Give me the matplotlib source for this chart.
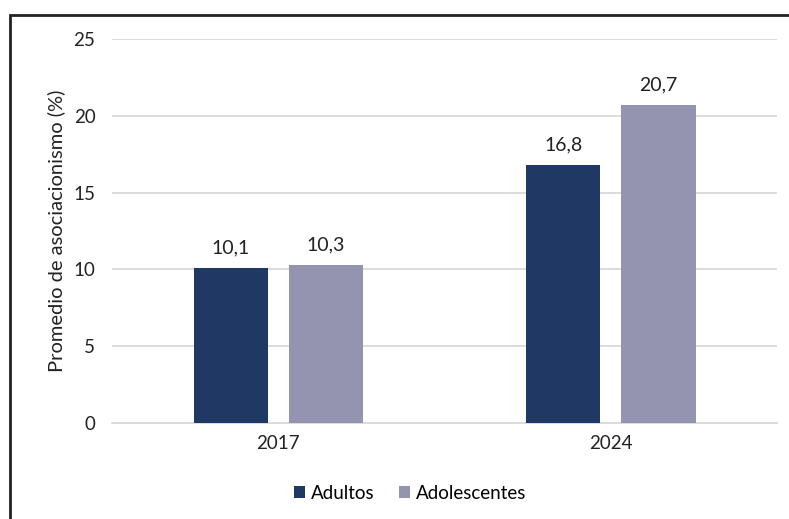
import numpy as np
import matplotlib.pyplot as plt
from matplotlib.patches import Rectangle

plt.rcParams['font.family'] = ['Lato', 'DejaVu Sans']

years = ["2017", "2024"]
adultos = [10.1, 16.8]
adolescentes = [10.3, 20.7]
labels_adultos = ["10,1", "16,8"]
labels_adolescentes = ["10,3", "20,7"]

c_adultos = "#203864"
c_adol = "#9494B0"

fig = plt.figure(figsize=(7.89, 5.19), dpi=100)
ax = fig.add_axes([0.142, 0.185, 0.843, 0.74])

x = np.arange(len(years))
w = 0.223
off = 0.143
b1 = ax.bar(x - off, adultos, w, color=c_adultos, label="Adultos", zorder=3)
b2 = ax.bar(x + off, adolescentes, w, color=c_adol, label="Adolescentes", zorder=3)

# etiquetas de valor con coma decimal
for bars, labs in [(b1, labels_adultos), (b2, labels_adolescentes)]:
    for b, t in zip(bars, labs):
        ax.annotate(t, (b.get_x() + b.get_width() / 2, b.get_height()),
                    xytext=(0, 8), textcoords="offset points",
                    ha="center", va="bottom", fontsize=14, color="#222222")

ax.set_xlim(-0.5, 1.5)
ax.set_ylim(0, 25)
ax.set_yticks([0, 5, 10, 15, 20, 25])
ax.set_xticks(x)
ax.set_xticklabels(years)
ax.grid(axis="y", color="#D9D9D9", linewidth=1.3, zorder=0)
for s in ["top", "right", "left"]:
    ax.spines[s].set_visible(False)
ax.spines["bottom"].set_color("#D9D9D9")
ax.spines["bottom"].set_linewidth(1.3)
ax.tick_params(axis="both", length=0, labelsize=13.5, colors="#222222")
ax.tick_params(axis="y", pad=12)
ax.tick_params(axis="x", pad=9)
ax.set_ylabel("Promedio de asociacionismo (%)", fontsize=14.5, color="#222222", labelpad=6)

fig.legend(handles=[b1, b2], loc="center", bbox_to_anchor=(0.52, 0.05), ncol=2,
           frameon=False, fontsize=13.5, handlelength=0.6, handleheight=0.6,
           handletextpad=0.3, columnspacing=1.3)

# marco exterior (se sale por la derecha y por abajo)
fig.patches.append(Rectangle((10 / 789, -0.1), 1.2, 1 - 15 / 519 + 0.1,
                             transform=fig.transFigure, fill=False,
                             edgecolor="#222222", linewidth=2))

fig.savefig("out.png", dpi=100)
